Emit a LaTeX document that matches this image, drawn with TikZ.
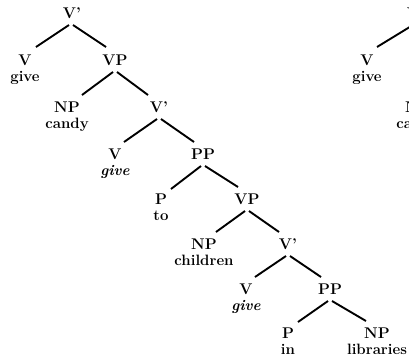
\documentclass[tikz,border=0pt]{standalone}
\begin{document}
\begin{tikzpicture}[x=1pt,y=-1pt,
  cat/.style={font=\fontsize{15.5}{18}\selectfont\bfseries, inner sep=0pt, text height=10pt, text depth=0pt},
  word/.style={font=\fontsize{15}{18}\selectfont\bfseries, inner sep=0pt, text height=8pt, text depth=2pt},
  iword/.style={font=\fontsize{15}{18}\selectfont\bfseries\itshape, inner sep=0pt, text height=8pt, text depth=2pt},
  branch/.style={line width=1.9pt}]
\useasboundingbox (0,0) rectangle (409,360);
\clip (0,0) rectangle (409,360);
% left tree
\node[cat] (r)   at (72,13)  {V'};
\node[cat] (v1)  at (25,60)  {V};
\node[word] (w1) at ([yshift=-18pt]v1.center) {give};
\node[cat] (vp1) at (115,60) {VP};
\node[cat] (np1) at (67,107) {NP};
\node[word] (w2) at ([yshift=-18pt]np1.center) {candy};
\node[cat] (vb2) at (159,107) {V'};
\node[cat] (v2)  at (115,154) {V};
\node[iword] (w3) at ([yshift=-18pt]v2.center) {give};
\node[cat] (pp1) at (203,154) {PP};
\node[cat] (p1)  at (161,199) {P};
\node[word] (w4) at ([yshift=-18pt]p1.center) {to};
\node[cat] (vp2) at (247,199) {VP};
\node[cat] (np2) at (204,244) {NP};
\node[word] (w5) at ([yshift=-18pt]np2.center) {children};
\node[cat] (vb3) at (288,244) {V'};
\node[cat] (v3)  at (246,289) {V};
\node[iword] (w6) at ([yshift=-18pt]v3.center) {give};
\node[cat] (pp2) at (330,289) {PP};
\node[cat] (p2)  at (288,333) {P};
\node[word] (w7) at ([yshift=-18pt]p2.center) {in};
\node[cat] (np3) at (377,333) {NP};
\node[word] (w8) at ([yshift=-18pt]np3.center) {libraries};
% right tree (cut off at the edge, as in the reference)
\node[cat] (rr)  at (416,13) {V'};
\node[cat] (rv)  at (367,60) {V};
\node[word] (rw1) at ([yshift=-18pt]rv.center) {give};
\node[cat] (rnp) at (418,107) {NP};
\node[word] (rw2) at ([yshift=-18pt]rnp.center) {candy};
% branches
\draw[branch] ([xshift=-3pt,yshift=-12pt]r.center) -- ([xshift=11pt,yshift=13pt]v1.center);
\draw[branch] ([xshift=1pt,yshift=-12pt]r.center) -- ([xshift=-9pt,yshift=13pt]vp1.center);
\draw[branch] ([xshift=-2pt,yshift=-12pt]vp1.center) -- ([xshift=15pt,yshift=12pt]np1.center);
\draw[branch] ([xshift=2pt,yshift=-12pt]vp1.center) -- ([xshift=-11pt,yshift=12pt]vb2.center);
\draw[branch] ([xshift=-2pt,yshift=-12pt]vb2.center) -- ([xshift=9pt,yshift=12pt]v2.center);
\draw[branch] ([xshift=2pt,yshift=-12pt]vb2.center) -- ([xshift=-9pt,yshift=12pt]pp1.center);
\draw[branch] ([xshift=-2pt,yshift=-12pt]pp1.center) -- ([xshift=10pt,yshift=10pt]p1.center);
\draw[branch] ([xshift=2pt,yshift=-12pt]pp1.center) -- ([xshift=-9pt,yshift=12pt]vp2.center);
\draw[branch] ([xshift=-2pt,yshift=-12pt]vp2.center) -- ([xshift=12pt,yshift=12pt]np2.center);
\draw[branch] ([xshift=2pt,yshift=-12pt]vp2.center) -- ([xshift=-9pt,yshift=12pt]vb3.center);
\draw[branch] ([xshift=-2pt,yshift=-12pt]vb3.center) -- ([xshift=9pt,yshift=12pt]v3.center);
\draw[branch] ([xshift=2pt,yshift=-12pt]vb3.center) -- ([xshift=-9pt,yshift=12pt]pp2.center);
\draw[branch] ([xshift=-2pt,yshift=-12pt]pp2.center) -- ([xshift=10pt,yshift=11pt]p2.center);
\draw[branch] ([xshift=2pt,yshift=-12pt]pp2.center) -- ([xshift=-11pt,yshift=12pt]np3.center);
\draw[branch] ([xshift=-3pt,yshift=-12pt]rr.center) -- ([xshift=10pt,yshift=13pt]rv.center);
\end{tikzpicture}
\end{document}
